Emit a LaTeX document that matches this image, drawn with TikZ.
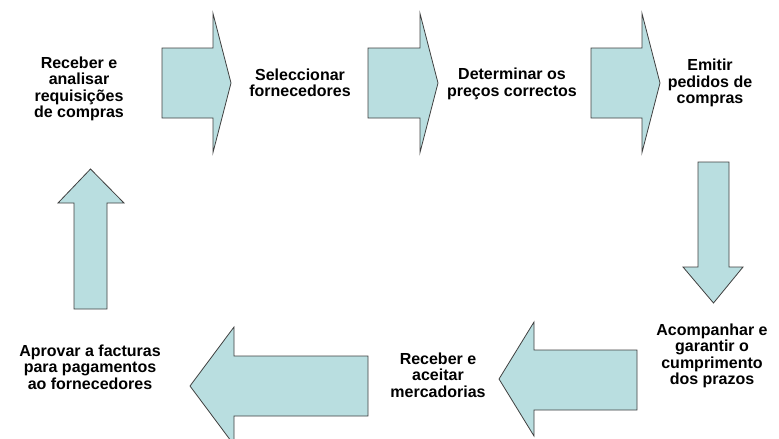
\documentclass[tikz,border=0pt]{standalone}
\usepackage{fontspec}
\setmainfont{Liberation Sans}
\definecolor{arrowfill}{HTML}{B9DEE0}
\definecolor{arrowline}{HTML}{404040}
\tikzset{
  blockarrow/.style={fill=arrowfill, draw=arrowline, line width=0.8pt, line join=miter},
  steptext/.style={align=center, font=\bfseries\fontsize{16}{16.5}\selectfont, inner sep=0pt}
}
\begin{document}
\begin{tikzpicture}[x=1pt,y=-1pt]
    \clip (0,0) rectangle (779,439);
    \useasboundingbox (0,0) rectangle (779,439);

    % block arrows: right, down, left, up
    \def\bh{35}
    \def\hh{69.5}
    \foreach \xa/\xb/\xt in {162/213/231, 368/420/438, 591/642/660}{
      \draw[blockarrow] (\xa,83-\bh) -- (\xb,83-\bh) -- (\xb,83-\hh) -- (\xt,83)
        -- (\xb,83+\hh) -- (\xb,83+\bh) -- (\xa,83+\bh) -- cycle;
    }
    \draw[blockarrow] (698,162) -- (729,162) -- (729,267) -- (743,267) -- (713.5,303)
      -- (683,267) -- (698,267) -- cycle;
    \draw[blockarrow] (637,350) -- (534,350) -- (534,322) -- (499,379) -- (534,436)
      -- (534,410) -- (637,410) -- cycle;
    \draw[blockarrow] (368,356) -- (234,356) -- (234,327) -- (190,386) -- (234,445)
      -- (234,416) -- (368,416) -- cycle;
    \draw[blockarrow] (74,309) -- (74,203) -- (58,203) -- (90.5,169) -- (124,203)
      -- (107,203) -- (107,309) -- cycle;

    % steps
    \node[steptext] (receber) at (79,89) {Receber e\\analisar\\requisições\\de compras};
    \node[steptext] (seleccionar) at (300,83) {Seleccionar\\fornecedores};
    \node[steptext] (precos) at (512,84) {Determinar os\\preços correctos};
    \node[steptext] (emitir) at (710,83) {Emitir\\pedidos de\\compras};
    \node[steptext] (acompanhar) at (712,356) {Acompanhar e\\garantir o\\cumprimento\\dos prazos};
    \node[steptext] (aceitar) at (438,375) {Receber e\\aceitar\\mercadorias};
    \node[steptext] (aprovar) at (90,367) {Aprovar a facturas\\para pagamentos\\ao fornecedores};

\end{tikzpicture}
\end{document}
